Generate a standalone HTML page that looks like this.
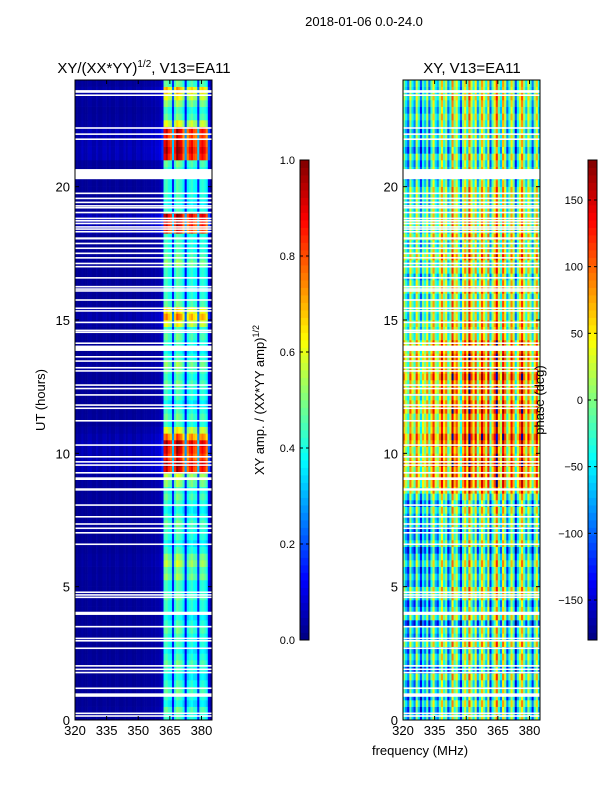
<!DOCTYPE html>
<html><head><meta charset="utf-8"><style>
html,body{margin:0;padding:0;background:#fff;}
svg text{font-family:"Liberation Sans","DejaVu Sans",sans-serif;}
</style></head><body>
<svg id="fig" width="600" height="800" viewBox="0 0 600 800" xmlns="http://www.w3.org/2000/svg">
<text x="364" y="26" font-size="13" text-anchor="middle">2018-01-06 0.0-24.0</text>
<text x="144" y="73" font-size="15" text-anchor="middle">XY/(XX*YY)<tspan font-size="10" dy="-6">1/2</tspan><tspan dy="6">, V13=EA11</tspan></text>
<text x="472" y="73" font-size="15" text-anchor="middle">XY, V13=EA11</text>
<text transform="translate(45,400) rotate(-90)" font-size="13" text-anchor="middle">UT (hours)</text>
<text x="420" y="755" font-size="13" text-anchor="middle">frequency (MHz)</text>
<text transform="translate(264,400) rotate(-90)" font-size="13" text-anchor="middle">XY amp. / (XX*YY amp)<tspan font-size="9" dy="-5">1/2</tspan></text>
<g id="left"></g>
<g id="right"></g>
<g id="axes"></g>
<text transform="translate(544,400) rotate(-90)" font-size="13" text-anchor="middle">phase (deg)</text>
</svg>
<script>
// ---- data ----
const freqStart = 320, freqStep = 1; // channel centres 320..384
const ampProfile = [0.02,0.02,0.02,0.03,0.02,0.02,0.03,0.03,0.02,0.02,0.03,0.02,0.02,0.03,0.03,0.02,0.03,0.02,0.02,0.03,0.03,0.02,0.02,0.03,0.02,0.03,0.03,0.02,0.02,0.03,0.03,0.02,0.03,0.03,0.03,0.03,0.04,0.03,0.04,0.04,0.05,0.08,0.42,0.45,0.4,0.38,0.15,0.4,0.47,0.44,0.42,0.36,0.13,0.36,0.4,0.42,0.38,0.37,0.15,0.4,0.42,0.4,0.36,0.1,0.04];
const rowStep = 0.25;
const timeGain = [1,1.1,0.9,1,1.1,1,0.9,1,1.1,1,0.9,1,1,1.1,1,0.9,1,1,1.1,1,1,1.2,1.1,1.3,1.2,1,0.9,1,1,1.1,1,0.9,1,1.1,1,1.2,1.3,2.1,2.2,2.0,2.1,2.2,1.8,1.4,1,1.1,1,0.9,1,1,1.1,1,1.1,1.2,1,0.9,1,1.1,1,1.4,1.7,1.5,1.1,1,1,1,1,1,1.2,1.1,1,1,1,2.0,2.1,2.2,1,0.9,1,1,1,1,1,1.1,2.1,2.2,2.1,2.0,2.1,1.4,1.1,1,1.2,1.4,1.6,1.1];
const colPhase = [10,-40,-80,30,-30,-70,40,-20,-100,-10,-50,20,-80,0,60,-30,-60,10,80,-10,30,-70,-20,100,10,50,-30,-90,20,70,-10,110,40,-20,60,-60,10,90,30,-30,70,-80,0,50,120,10,-40,90,30,-70,-10,70,10,-100,-20,40,100,20,-40,50,-10,-80,10,70,-30];
const rowPhase = [-30,-50,-10,-60,-20,-40,0,-70,-30,-10,-50,10,-40,-20,-80,0,-30,-60,-10,10,-40,-20,-50,0,-30,-70,-10,-40,-60,-20,-30,0,-50,-10,40,60,70,50,80,60,40,70,90,50,60,40,80,60,30,70,50,80,60,40,70,50,60,20,10,30,0,10,20,-10,30,10,-20,20,0,40,10,-10,30,0,20,10,0,-10,0,10,-20,-40,-10,-30,0,-50,-20,-10,-40,-20,0,-30,-10,10,-20,-10];
const flags = [[23.52,23.62],[23.4,23.46],[22.17,22.23],[21.94,22.0],[21.75,21.81],[20.28,20.66],[19.72,19.78],[19.53,19.59],[19.38,19.44],[19.25,19.31],[19.18,19.24],[19.0,19.06],[18.78,18.84],[18.69,18.75],[18.59,18.65],[18.46,18.52],[18.38,18.44],[18.28,18.34],[18.02,18.1],[17.84,17.9],[17.66,17.72],[17.47,17.53],[17.3,17.36],[17.09,17.15],[16.97,17.03],[16.55,16.61],[16.22,16.28],[16.13,16.19],[16.06,16.12],[15.72,15.78],[15.41,15.47],[15.31,15.37],[14.88,14.94],[14.58,14.64],[14.51,14.57],[14.1,14.16],[13.84,14.04],[13.59,13.65],[13.43,13.49],[13.18,13.24],[13.06,13.12],[12.53,12.59],[12.4,12.46],[12.16,12.22],[11.78,11.84],[11.66,11.72],[11.19,11.25],[10.28,10.34],[9.84,9.9],[9.65,9.71],[9.53,9.59],[9.24,9.3],[9.0,9.1],[8.6,8.69],[8.03,8.09],[7.59,7.65],[7.32,7.38],[7.16,7.22],[6.99,7.05],[6.56,6.62],[4.76,4.82],[4.66,4.72],[4.57,4.63],[3.94,4.06],[3.47,3.53],[3.03,3.09],[2.94,3.0],[2.66,2.72],[2.0,2.06],[1.87,1.93],[1.75,1.81],[1.16,1.22],[0.87,1.0],[0.22,0.28],[0.12,0.18]];
const xTicks = [320,335,350,365,380];
const yTicks = [0,5,10,15,20];
const ampTicks = [0.0,0.2,0.4,0.6,0.8,1.0];
const phaseTicks = [-150,-100,-50,0,50,100,150];

// ---- helpers ----
const NS = "http://www.w3.org/2000/svg";
function jet(v){
  v=Math.max(0,Math.min(1,v));
  const f=(x)=>Math.max(0,Math.min(1,x));
  const r=f(1.5-Math.abs(4*v-3)), g=f(1.5-Math.abs(4*v-2)), b=f(1.5-Math.abs(4*v-1));
  return `rgb(${Math.round(r*255)},${Math.round(g*255)},${Math.round(b*255)})`;
}
function mk(tag, attrs, parent){ const e=document.createElementNS(NS,tag); for(const k in attrs) e.setAttribute(k,attrs[k]); parent.appendChild(e); return e; }
const Y0=720, Y1=80, T0=0, T1=24;
const yScale = (h)=> Y0 - (h-T0)/(T1-T0)*(Y0-Y1);
function xScaleFor(x0,x1){ return (f)=> x0 + (f-320)/(385-320)*(x1-x0); }
const panels = [{g:document.getElementById('left'), x0:75, x1:212, kind:'amp'},{g:document.getElementById('right'), x0:403, x1:540, kind:'phase'}];
const axes=document.getElementById('axes');

panels.forEach(p=>{
  const xs=xScaleFor(p.x0,p.x1);
  for(let i=0;i<timeGain.length;i++){
    const t=i*rowStep, yTop=yScale(t+rowStep), yBot=yScale(t);
    for(let j=0;j<ampProfile.length;j++){
      const f=freqStart+j*freqStep;
      let v;
      if(p.kind==='amp'){ v=Math.min(1, ampProfile[j]*timeGain[i]); }
      else { let ph=colPhase[j]+rowPhase[i]; ph=((ph+180)%360+360)%360-180; v=(ph+180)/360; }
      const r=mk('rect',{x:xs(f).toFixed(2),y:yTop.toFixed(2),width:(xs(f+freqStep)-xs(f)+0.3).toFixed(2),height:(yBot-yTop+0.3).toFixed(2),fill:jet(v)},p.g);
      
      
    }
  }
  flags.forEach(fl=>{
    const r=mk('rect',{x:p.x0,y:yScale(fl[1]),width:p.x1-p.x0,height:Math.max(1.5,yScale(fl[0])-yScale(fl[1])),fill:'#fff'},p.g);
    
    
  });
  const fr=mk('rect',{x:p.x0,y:Y1,width:p.x1-p.x0,height:Y0-Y1,fill:'none',stroke:'#000','stroke-width':1},axes);
  
  
  xTicks.forEach(f=>{
    const x=xs(f);
    mk('line',{x1:x,y1:Y0,x2:x,y2:Y0-4,stroke:'#000'},axes);
    mk('line',{x1:x,y1:Y1,x2:x,y2:Y1+4,stroke:'#000'},axes);
    const t=mk('text',{x:x,y:Y0+15,'font-size':13,'text-anchor':'middle'},axes); t.textContent=f;
    
    
  });
  yTicks.forEach(h=>{
    const y=yScale(h);
    mk('line',{x1:p.x0,y1:y,x2:p.x0+4,y2:y,stroke:'#000'},axes);
    mk('line',{x1:p.x1,y1:y,x2:p.x1-4,y2:y,stroke:'#000'},axes);
    const t=mk('text',{x:p.x0-5,y:y+5,'font-size':13,'text-anchor':'end'},axes); t.textContent=h;
    
    
  });
});

function colorbar(x,min,max,ticks,name){
  const cy0=640, cy1=160, n=64;
  const g=mk('g',{},axes);
  
  
  for(let k=0;k<n;k++){
    const ya=cy0-(k+1)*(cy0-cy1)/n;
    mk('rect',{x:x,y:ya.toFixed(2),width:9,height:((cy0-cy1)/n+0.4).toFixed(2),fill:jet((k+0.5)/n)},g);
  }
  mk('rect',{x:x,y:cy1,width:9,height:cy0-cy1,fill:'none',stroke:'#000'},g);
  ticks.forEach(v=>{
    const y=cy0-(v-min)/(max-min)*(cy0-cy1);
    mk('line',{x1:x,y1:y,x2:x+3,y2:y,stroke:'#000'},g);
    mk('line',{x1:x+9,y1:y,x2:x+6,y2:y,stroke:'#000'},g);
    const t=mk('text',{x:x-5,y:y+4,'font-size':11,'text-anchor':'end'},g);
    t.textContent = name==='amp-colorbar'? v.toFixed(1) : (v<0?'\u2212'+Math.abs(v):String(v));
    
    
  });
}
colorbar(300,0,1,ampTicks,'amp-colorbar');
colorbar(588,-180,180,phaseTicks,'phase-colorbar');
</script>
</body></html>
